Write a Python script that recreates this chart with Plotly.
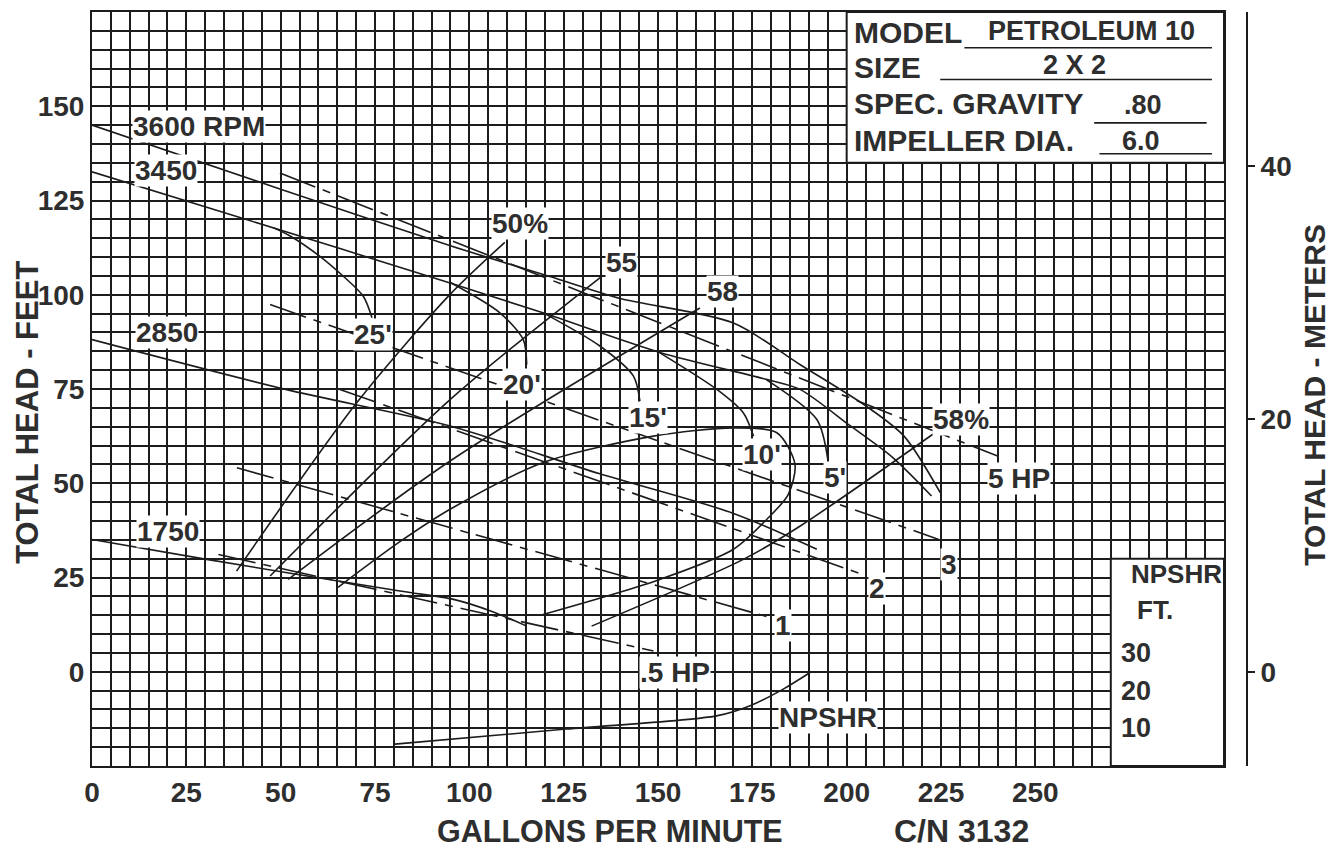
import plotly.graph_objects as go

# ---------------- data (GPM, total head ft) ----------------
rpm3600_q = [0, 50, 95, 124, 140, 170, 187.6, 205.1, 215.2, 224.8]
rpm3600_h = [145, 128, 113, 104, 99, 92.5, 81.5, 70.5, 62.5, 47.5]

rpm3450_q = [0, 39.2, 94.9, 119.5, 150.5, 178.9, 187.6, 201, 212, 222.5]
rpm3450_h = [132.6, 120.5, 103.1, 95.2, 84.7, 77.5, 74.9, 65.2, 57, 46.6]

rpm2850_q = [0, 51.3, 94.9, 134.6, 170, 192.1]
rpm2850_h = [88.1, 74.9, 65.2, 52.5, 42, 32.5]

rpm1750_q = [0, 30.4, 81.6, 95.8, 106, 115.2]
rpm1750_h = [35.1, 29.8, 21.4, 19.2, 16, 12.1]

eff50_q = [38.3, 70.2, 94.9, 109.4]
eff50_h = [26.7, 71.4, 100.1, 113.9]
eff55_q = [47.2, 94.9, 135.1]
eff55_h = [25.4, 72.2, 104.9]
eff58a_q = [52.0, 94.9, 161.1]
eff58a_h = [24.5, 55.9, 96.5]
eff58b_q = [132.4, 172.6, 187.6, 223.4]
eff58b_h = [12.1, 29.8, 38.6, 63.4]
island_q = [65.2, 81.6, 94.9, 119.6, 148.8, 170, 181.5, 186.3, 184.5, 178.8, 170, 150.5, 119.5]
island_h = [22.4, 34.5, 43.1, 55.5, 62.5, 64.7, 63.4, 55, 47, 40.4, 32.5, 24.5, 15.2]

npsh25_q = [48, 52.5, 60.4, 66.6, 71.9, 74.2]
npsh25_h = [117.8, 115.6, 110.2, 104.9, 99.6, 93.9]
npsh20_q = [94.9, 108.1, 114.3, 115.2]
npsh20_h = [103.3, 95.2, 88.1, 81.5]
npsh15_q = [119.6, 134.6, 143.5, 145.2]
npsh15_h = [95.2, 86.4, 78.4, 71.8]
npsh10_q = [150.5, 165.6, 172.6, 175.3]
npsh10_h = [84.6, 74.9, 68.7, 62.5]
npsh5_q = [178.7, 192.1, 195.0]
npsh5_h = [77.5, 66.9, 56.3]

hp5_q = [49.8, 240.0]
hp5_h = [132.3, 57.2]
hp3_q = [47.2, 224.4]
hp3_h = [97.4, 35.1]
hp2_q = [65.7, 204.2]
hp2_h = [74.9, 25.8]
hp1_q = [38.4, 179.7]
hp1_h = [54.1, 14.4]
hp05_q = [33.5, 148.8]
hp05_h = [31.1, 5.5]

npshr_q = [80.3, 125.7, 165.5, 174.4, 183.2, 190.3]
npshr_ft = [5.8, 9.8, 13.3, 16.0, 20.4, 24.8]

# axis ticks
x_grid = list(range(0, 301, 5))
x_labels = [str(v) if (v % 25 == 0 and v <= 250) else "" for v in x_grid]
y_grid = list(range(-25, 176, 5))
y_labels = [str(v) if (v % 25 == 0 and 0 <= v <= 150) else "" for v in y_grid]
m_ticks = [0, 20, 40]
npshr_ticks = [10, 20, 30]

# curve labels: (text, gpm, ft)
curve_labels = [
    ("3600 RPM", 28.4, 144.6), ("3450", 19.6, 132.9), ("2850", 19.9, 90.0),
    ("1750", 20.1, 37.2), ("50%", 113.4, 118.9), ("55", 140.3, 108.6),
    ("58", 167.1, 100.9), ("58%", 230.3, 66.9), ("5 HP", 245.7, 51.3),
    ("25'", 74.5, 89.5), ("20'", 114.0, 76.2), ("15'", 147.4, 67.5),
    ("10'", 177.6, 57.7), ("5'", 197.0, 51.4), ("3", 227.1, 28.5),
    ("2", 208.0, 22.1), ("1", 183.1, 12.3), (".5 HP", 154.5, -0.1),
    ("NPSHR", 195.0, -12.1),
]

info_keys = ["MODEL", "SIZE", "SPEC. GRAVITY", "IMPELLER DIA."]
info_vals = ["PETROLEUM 10", "2 X 2", ".80", "6.0"]

FONT = "Liberation Sans"
INK = "#1c1c1c"
TXT = "#2e2e2e"

fig = go.Figure()

def solid(q, h, yaxis="y"):
    fig.add_trace(go.Scatter(x=q, y=h, mode="lines", yaxis=yaxis,
                             line=dict(color=INK, width=1.6, shape="spline", smoothing=0.8),
                             showlegend=False, hoverinfo="skip"))

def dashed(q, h):
    fig.add_trace(go.Scatter(x=q, y=h, mode="lines",
                             line=dict(color=INK, width=1.6, dash="38px,8px,8px,8px"),
                             showlegend=False, hoverinfo="skip"))

for q, h in [(rpm3600_q, rpm3600_h), (rpm3450_q, rpm3450_h), (rpm2850_q, rpm2850_h),
             (rpm1750_q, rpm1750_h), (eff50_q, eff50_h), (eff55_q, eff55_h),
             (eff58a_q, eff58a_h), (eff58b_q, eff58b_h), (island_q, island_h),
             (npsh25_q, npsh25_h), (npsh20_q, npsh20_h), (npsh15_q, npsh15_h),
             (npsh10_q, npsh10_h), (npsh5_q, npsh5_h)]:
    solid(q, h)
for q, h in [(hp5_q, hp5_h), (hp3_q, hp3_h), (hp2_q, hp2_h), (hp1_q, hp1_h), (hp05_q, hp05_h)]:
    dashed(q, h)
solid(npshr_q, npshr_ft, yaxis="y3")

# dummy trace for the meters axis
fig.add_trace(go.Scatter(x=[None], y=[None], yaxis="y2", showlegend=False))

shapes = []
# white-out areas (info box and NPSHR box)
shapes.append(dict(type="rect", xref="x", yref="y", x0=200, x1=300, y0=135, y1=175,
                   fillcolor="white", line=dict(color=INK, width=2), layer="between"))
shapes.append(dict(type="rect", xref="x", yref="y", x0=270, x1=300, y0=-25, y1=30,
                   fillcolor="white", line=dict(color=INK, width=2), layer="between"))
# underlines in info box
for x0, x1, yy in [(231.2, 296.8, 165.5), (224.8, 296.8, 157.1), (265.6, 295.4, 145.6), (267.0, 296.8, 137.4)]:
    shapes.append(dict(type="line", xref="x", yref="y", x0=x0, x1=x1, y0=yy, y1=yy,
                       line=dict(color=INK, width=1.6), layer="between"))

annotations = []
for txt, q, h in curve_labels:
    annotations.append(dict(x=q, y=h, xref="x", yref="y", text=txt, showarrow=False,
                            xanchor="center", yanchor="middle",
                            font=dict(family=FONT, size=28, color=TXT, weight="bold"),
                            bgcolor="white", borderpad=0))

info_y = [169.6, 160.2, 150.7, 140.9]
val_x = [264.9, 260.5, 278.5, 278.0]
val_y = [169.9, 161.0, 150.4, 140.9]
for k, v, yk, vx, vy in zip(info_keys, info_vals, info_y, val_x, val_y):
    annotations.append(dict(x=201.4, y=yk, xref="x", yref="y", text=k, showarrow=False,
                            xanchor="left", yanchor="middle",
                            font=dict(family=FONT, size=30, color=TXT, weight="bold")))
    annotations.append(dict(x=vx, y=vy, xref="x", yref="y", text=v, showarrow=False,
                            xanchor="center", yanchor="middle",
                            font=dict(family=FONT, size=27, color=TXT, weight="bold")))

# NPSHR scale box
annotations.append(dict(x=287.4, y=25.8, xref="x", yref="y", text="NPSHR", showarrow=False,
                        xanchor="center", yanchor="middle",
                        font=dict(family=FONT, size=26, color=TXT, weight="bold")))
annotations.append(dict(x=281.7, y=16.5, xref="x", yref="y", text="FT.", showarrow=False,
                        xanchor="center", yanchor="middle",
                        font=dict(family=FONT, size=26, color=TXT, weight="bold")))
for t in npshr_ticks:
    annotations.append(dict(x=276.6, y=t, xref="x", yref="y3", text=str(t), showarrow=False,
                            xanchor="center", yanchor="middle",
                            font=dict(family=FONT, size=27, color=TXT, weight="bold")))

# axis titles
annotations += [
    dict(x=-0.0554, y=0.4685, xref="paper", yref="paper", text="TOTAL HEAD - FEET",
         textangle=-90, showarrow=False, xanchor="center", yanchor="middle",
         font=dict(family=FONT, size=31, color=TXT, weight="bold")),
    dict(x=1.0589, y=0.4924, xref="paper", yref="paper", text="TOTAL HEAD - METERS",
         textangle=-90, showarrow=False, xanchor="center", yanchor="middle",
         font=dict(family=FONT, size=30, color=TXT, weight="bold")),
    dict(x=0.4485, y=-0.0868, xref="paper", yref="paper", text="GALLONS PER MINUTE",
         showarrow=False, xanchor="center", yanchor="middle",
         font=dict(family=FONT, size=30.5, color=TXT, weight="bold")),
    dict(x=0.7524, y=-0.0868, xref="paper", yref="paper", text="C/N 3132",
         showarrow=False, xanchor="center", yanchor="middle",
         font=dict(family=FONT, size=32, color=TXT, weight="bold")),
]

TICKF = dict(family=FONT, size=28, color=TXT, weight="bold")
fig.update_layout(
    width=1343, height=848,
    margin=dict(l=84, r=104, t=4, b=89.5),
    paper_bgcolor="white", plot_bgcolor="white",
    showlegend=False,
    xaxis=dict(domain=[0, 1132 / 1155], range=[0, 300], tickmode="array", tickvals=x_grid,
               ticktext=x_labels, showgrid=True, gridcolor=INK, gridwidth=1.6,
               zeroline=False, showline=True, mirror=True, linecolor=INK, linewidth=2,
               ticks="", tickfont=TICKF, automargin=False),
    yaxis=dict(range=[-25, 175], tickmode="array", tickvals=y_grid, ticktext=y_labels,
               showgrid=True, gridcolor=INK, gridwidth=1.6, zeroline=False,
               showline=True, mirror=True, linecolor=INK, linewidth=2, ticks="",
               tickfont=TICKF, automargin=False),
    yaxis2=dict(range=[-7.46, 52.22], overlaying="y", side="right", anchor="free",
                position=1.0, tickvals=m_ticks, showgrid=False, zeroline=False,
                showline=True, linecolor=INK, linewidth=2, ticks="outside", ticklen=7,
                tickwidth=1.6, tickcolor=INK, tickfont=TICKF, automargin=False),
    yaxis3=dict(range=[0, 200], overlaying="y", visible=False),
    shapes=shapes, annotations=annotations,
)

fig.write_html("out.html")
